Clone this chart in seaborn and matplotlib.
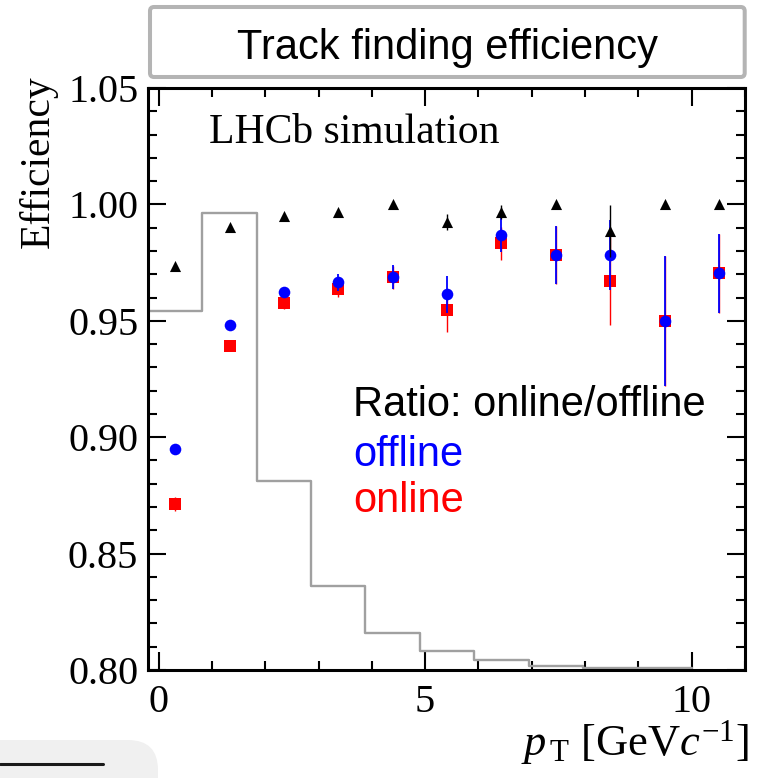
import numpy as np
import pandas as pd
import matplotlib
matplotlib.use("Agg")
import matplotlib.pyplot as plt
from matplotlib.patches import FancyBboxPatch
from matplotlib.lines import Line2D
from matplotlib.transforms import IdentityTransform
from matplotlib.ticker import MultipleLocator
import seaborn as sns

# ---- data ----------------------------------------------------------------
bin_edges = [-0.2, 0.82, 1.84, 2.86, 3.88, 4.90, 5.92, 6.94, 7.96, 8.98, 10.0]
pt_spectrum = [0.954, 0.9964, 0.881, 0.836, 0.8158, 0.8083, 0.8043, 0.8017, 0.8010, 0.8007]

pt_centers = [0.31, 1.33, 2.35, 3.37, 4.39, 5.41, 6.43, 7.45, 8.47, 9.49, 10.51]
eff_offline = [0.8948, 0.9481, 0.9622, 0.9665, 0.9688, 0.9614, 0.9869, 0.9783, 0.9783, 0.9500, 0.9704]
err_offline = [0.002, 0.001, 0.0025, 0.0036, 0.0052, 0.0079, 0.0073, 0.0126, 0.015, 0.028, 0.0169]
eff_online = [0.8712, 0.9390, 0.9575, 0.9635, 0.9687, 0.9545, 0.9833, 0.9783, 0.9671, 0.9499, 0.9704]
err_online = [0.003, 0.001, 0.0025, 0.0032, 0.005, 0.0092, 0.0072, 0.0126, 0.0189, 0.028, 0.0169]
ratio = [0.9735, 0.9904, 0.9951, 0.9966, 1.000, 0.9923, 0.9966, 1.000, 0.9886, 1.000, 1.000]
err_ratio = [0.0008, 0.0008, 0.0005, 0.0005, 0.0005, 0.0034, 0.003, 0.0005, 0.011, 0.0005, 0.0005]

y_ticks = [0.80, 0.85, 0.90, 0.95, 1.00, 1.05]
x_ticks = [0, 5, 10]

# ---- style ---------------------------------------------------------------
sns.set_style("ticks")
plt.rcParams["font.family"] = ["Liberation Serif", "DejaVu Serif"]
plt.rcParams["mathtext.fontset"] = "custom"
plt.rcParams["mathtext.rm"] = "Liberation Serif"
plt.rcParams["mathtext.it"] = "Liberation Serif:italic"
plt.rcParams["mathtext.bf"] = "Liberation Serif:bold"
for key in ("text.color", "axes.labelcolor", "xtick.color", "ytick.color",
            "axes.edgecolor"):
    plt.rcParams[key] = "black"

SANS = ["Liberation Sans", "DejaVu Sans"]

fig = plt.figure(figsize=(7.59, 7.78), dpi=100)
ax = fig.add_axes([148 / 759, 1 - 670 / 778, 597 / 759, 582 / 778])

# pT spectrum drawn as an outline histogram behind the efficiencies
hist_df = pd.DataFrame({"pt": np.array(bin_edges[:-1]) + np.diff(bin_edges) / 2,
                        "w": pt_spectrum})
sns.histplot(data=hist_df, x="pt", weights="w", bins=bin_edges, element="step",
             fill=False, color="#a0a0a0", linewidth=1.7, ax=ax, zorder=1)

df = pd.DataFrame({"pt": pt_centers, "online": eff_online, "offline": eff_offline,
                   "ratio": ratio})

# online (red squares)
ax.errorbar(pt_centers, eff_online, yerr=err_online, fmt="none", ecolor="red",
            elinewidth=1.0, zorder=2)
sns.scatterplot(data=df, x="pt", y="online", marker="s", color="red", s=64,
                linewidth=0, ax=ax, zorder=3)
# offline (blue circles)
ax.errorbar(pt_centers, eff_offline, yerr=err_offline, fmt="none", ecolor="blue",
            elinewidth=1.3, zorder=4)
sns.scatterplot(data=df, x="pt", y="offline", marker="o", color="blue", s=70,
                linewidth=0, ax=ax, zorder=5)
# ratio (black triangles)
ax.errorbar(pt_centers, ratio, yerr=err_ratio, fmt="none", ecolor="black",
            elinewidth=1.0, zorder=6)
sns.scatterplot(data=df, x="pt", y="ratio", marker="^", color="black", s=64,
                linewidth=0, ax=ax, zorder=7)

ax.set_xlim(-0.2, 11.0)
ax.set_ylim(0.80, 1.05)
ax.set_xticks(x_ticks)
ax.set_yticks(y_ticks)
ax.set_yticklabels([f"{v:.2f}" for v in y_ticks])
ax.xaxis.set_minor_locator(MultipleLocator(1))
ax.yaxis.set_minor_locator(MultipleLocator(0.01))
ax.tick_params(which="both", direction="in", top=True, right=True, width=1.5,
               color="black")
ax.tick_params(which="major", length=13)
ax.tick_params(which="minor", length=6.3)
ax.tick_params(axis="y", which="major", labelsize=29, pad=7)
ax.tick_params(axis="x", which="major", labelsize=29, pad=10)
for sp in ax.spines.values():
    sp.set_visible(True)
    sp.set_linewidth(2.2)
    sp.set_color("black")

ax.set_ylabel("Efficiency", fontsize=30, loc="top")
ax.yaxis.set_label_coords(-0.152, 1.022)
ax.set_xlabel(r"$p_{\,\mathrm{T}}$ [GeV$c^{\mathrm{-1}}$]", fontsize=32, loc="right")
ax.xaxis.set_label_coords(1.006, -0.146)
ax.xaxis.label.set_va("baseline")

ax.text(0.102, 0.905, "LHCb simulation", transform=ax.transAxes, fontsize=30,
        va="baseline", ha="left")
ax.text(0.343, 0.437, "Ratio: online/offline", transform=ax.transAxes, fontsize=30,
        va="baseline", ha="left", color="black", family=SANS)
ax.text(0.343, 0.351, "offline", transform=ax.transAxes, fontsize=30,
        va="baseline", ha="left", color="blue", family=SANS)
ax.text(0.343, 0.272, "online", transform=ax.transAxes, fontsize=30,
        va="baseline", ha="left", color="red", family=SANS)

# title box above the frame
title_box = FancyBboxPatch((150, 778 - 77), 594.7, 70,
                           boxstyle="round,pad=0,rounding_size=4",
                           transform=IdentityTransform(), facecolor="white",
                           edgecolor="#b4b4b4", linewidth=2.9)
fig.patches.append(title_box)
fig.text(447 / 759, 1 - 59.5 / 778, "Track finding efficiency", fontsize=30,
         ha="center", va="baseline", family=SANS)

# small rounded panel with a rule in the lower-left corner
panel = FancyBboxPatch((-60, -60), 218, 778 - 740 + 60,
                       boxstyle="round,pad=0,rounding_size=30",
                       transform=IdentityTransform(), facecolor="#f0f0f0",
                       edgecolor="none")
fig.patches.append(panel)
fig.lines.append(Line2D([0, 103], [778 - 764.3, 778 - 764.3], color="#1a1a1a",
                        linewidth=2.2, transform=IdentityTransform()))

fig.savefig("out.png", dpi=100)
